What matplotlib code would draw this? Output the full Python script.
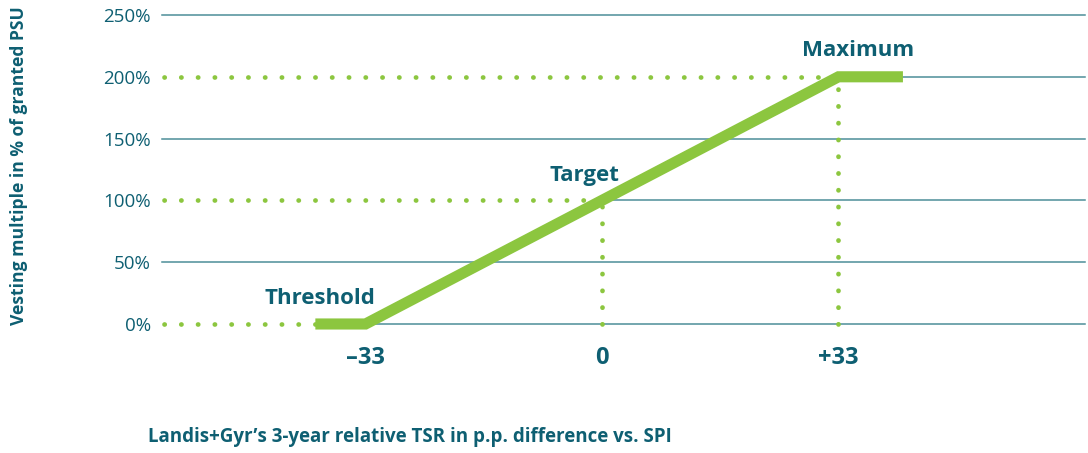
import matplotlib
matplotlib.use('Agg')
import matplotlib.pyplot as plt

plt.rcParams['font.family'] = ['Open Sans', 'DejaVu Sans']

teal = '#0e5f72'
grid_col = '#4d8e99'
green = '#8cc63f'

# payout curve
curve_x = [-40, -33, 33, 42]
curve_y = [0, 0, 200, 200]

y_ticks = [0, 50, 100, 150, 200, 250]
y_labels = ['0%', '50%', '100%', '150%', '200%', '250%']
x_ticks = [-33, 0, 33]
x_labels = ['\u201333', '0', '+33']

# reference points: (x, y, label)
ref_x = [-33, 0, 33]
ref_y = [0, 100, 200]
ref_names = ['Threshold', 'Target', 'Maximum']
label_x = [-39.3, -2.5, 35.7]
label_y = [21, 120.5, 221.5]

xmin, xmax = -61.4, 67.4

fig = plt.figure(figsize=(10.88, 4.53), dpi=100)
ax = fig.add_axes([0.1489, 0.2848, 0.8483, 0.6821])
ax.set_xlim(xmin, xmax)
ax.set_ylim(0, 250)

# grid lines, skipped where the dotted guides run
for yv in y_ticks:
    start = xmin
    if yv in ref_y:
        i = ref_y.index(yv)
        start = curve_x[-1] if yv == curve_y[-1] else ref_x[i]
    ax.plot([start, xmax], [yv, yv], color=grid_col, lw=1.1, zorder=1, clip_on=False)

dot_style = dict(color=green, lw=3.4, linestyle=(0, (0.05, 3.5)), dash_capstyle='round',
                 zorder=2, clip_on=False)
for i in range(len(ref_x)):
    # horizontal guide from the axis to the curve
    end = curve_x[0] if i == 0 else ref_x[i]
    ax.plot([xmin + 0.3, end], [ref_y[i], ref_y[i]], **dot_style)
    if ref_y[i] > 0:
        ax.plot([ref_x[i], ref_x[i]], [0, ref_y[i] - 4], **dot_style)

ax.plot(curve_x, curve_y, color=green, lw=8, solid_capstyle='butt',
        solid_joinstyle='miter', zorder=3, clip_on=False)

for i in range(len(ref_names)):
    ax.text(label_x[i], label_y[i], ref_names[i], color=teal, fontsize=16,
            fontweight='bold', ha='center', va='center')

ax.set_yticks(y_ticks)
ax.set_yticklabels(y_labels, color=teal, fontsize=13.5)
ax.set_xticks(x_ticks)
ax.set_xticklabels(x_labels, color=teal, fontsize=17, fontweight='bold')
ax.tick_params(axis='both', length=0)
ax.tick_params(axis='y', pad=8)
ax.tick_params(axis='x', pad=16)
for s in ax.spines.values():
    s.set_visible(False)

fig.text(0.0175, 0.635, 'Vesting multiple in % of granted PSU', rotation=90,
         color=teal, fontsize=12.6, fontweight='bold', ha='center', va='center')
fig.text(0.136, 0.035, 'Landis+Gyr\u2019s 3-year relative TSR in p.p. difference vs. SPI',
         color=teal, fontsize=13.5, fontweight='bold', ha='left', va='center')

fig.savefig('out.png', dpi=100)
